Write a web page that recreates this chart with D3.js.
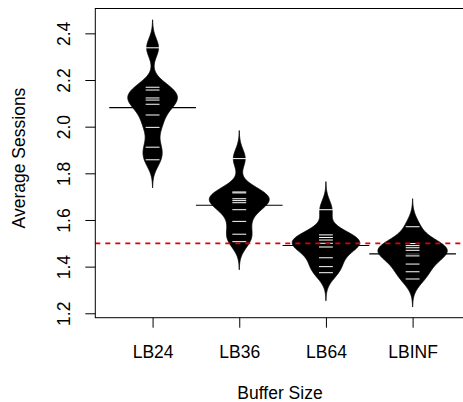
<!DOCTYPE html>
<html>
<head>
<meta charset="utf-8">
<script src="https://cdn.jsdelivr.net/npm/d3@7"></script>
<style>
  body { margin: 0; background: #fff; }
  text { font-family: "Liberation Sans", Arial, sans-serif; font-size: 17.5px; fill: #000; }
</style>
</head>
<body>
<div id="chart"></div>
<script>
// Data
var categories = ["LB24", "LB36", "LB64", "LBINF"];
var lb24 = [2.338, 2.169, 2.157, 2.123, 2.114, 2.096, 2.050, 1.997, 1.912, 1.858];
var lb36 = [1.863, 1.720, 1.716, 1.691, 1.683, 1.674, 1.644, 1.594, 1.539, 1.507];
var lb64 = [1.644, 1.536, 1.525, 1.514, 1.500, 1.490, 1.484, 1.438, 1.400, 1.374];
var lbinf = [1.571, 1.499, 1.490, 1.481, 1.470, 1.455, 1.446, 1.411, 1.378, 1.347];
var yTicks = [1.2, 1.4, 1.6, 1.8, 2.0, 2.2, 2.4];
var refLine = 1.5;
var bandwidth = 0.04;

var groups = [lb24, lb36, lb64, lbinf];

var svgWidth = 463;
var svgHeight = 402;

var svg = d3.select("#chart")
  .append("svg")
  .attr("width", svgWidth)
  .attr("height", svgHeight);

// plot region (right edge runs past the window, as in the original)
var plotLeft = 95.3, plotRight = 469.9, plotTop = 8.5, plotBottom = 317.7;

var xScale = d3.scalePoint()
  .domain(categories)
  .range([plotLeft, plotRight])
  .padding(0.661);

var yScale = d3.scaleLinear()
  .domain([1.1811, 2.5065])
  .range([plotBottom, plotTop]);

var step = xScale.step();

// gaussian kernel density for each bean
function kde(values) {
  var lo = d3.min(values) - 3 * bandwidth;
  var hi = d3.max(values) + 3 * bandwidth;
  var n = 240;
  var pts = [];
  for (var i = 0; i <= n; i++) {
    var v = lo + (hi - lo) * i / n;
    var d = d3.mean(values, function(x) {
      var u = (v - x) / bandwidth;
      return Math.exp(-0.5 * u * u) / (bandwidth * Math.sqrt(2 * Math.PI));
    });
    pts.push([v, d]);
  }
  return pts;
}

var densities = groups.map(kde);
var maxDensity = d3.max(densities, function(ds) { return d3.max(ds, function(p) { return p[1]; }); });
var widthScale = d3.scaleLinear().domain([0, maxDensity]).range([0, 0.4 * step]);

// beans
densities.forEach(function(ds, i) {
  var cx = xScale(categories[i]);
  var area = d3.area()
    .x0(function(p) { return cx - widthScale(p[1]); })
    .x1(function(p) { return cx + widthScale(p[1]); })
    .y(function(p) { return yScale(p[0]); });
  svg.append("path")
    .datum(ds)
    .attr("d", area)
    .attr("fill", "#000")
    .attr("stroke", "#000")
    .attr("stroke-width", 0.8);
});

// bean lines (one per observation)
groups.forEach(function(values, i) {
  var cx = xScale(categories[i]);
  svg.append("g")
    .selectAll("line")
    .data(values)
    .enter()
    .append("line")
    .attr("x1", cx - 0.08 * step)
    .attr("x2", cx + 0.08 * step)
    .attr("y1", function(d) { return yScale(d); })
    .attr("y2", function(d) { return yScale(d); })
    .attr("stroke", "#fff")
    .attr("stroke-width", 1);
});

// bean averages
groups.forEach(function(values, i) {
  var cx = xScale(categories[i]);
  var m = d3.mean(values);
  svg.append("line")
    .attr("x1", cx - 0.5 * step)
    .attr("x2", cx + 0.5 * step)
    .attr("y1", yScale(m))
    .attr("y2", yScale(m))
    .attr("stroke", "#000")
    .attr("stroke-width", 1.2);
});

// reference line
svg.append("line")
  .attr("x1", plotLeft)
  .attr("x2", plotRight)
  .attr("y1", yScale(refLine))
  .attr("y2", yScale(refLine))
  .attr("stroke", "#e00000")
  .attr("stroke-width", 1.8)
  .attr("stroke-dasharray", "5,5");

// box
svg.append("rect")
  .attr("x", plotLeft)
  .attr("y", plotTop)
  .attr("width", plotRight - plotLeft)
  .attr("height", plotBottom - plotTop)
  .attr("fill", "none")
  .attr("stroke", "#000")
  .attr("stroke-width", 1);

// axes
var leftAxis = d3.axisLeft(yScale).tickValues(yTicks).tickSize(10).tickFormat(d3.format(".1f"));
var bottomAxis = d3.axisBottom(xScale).tickSize(10);

var yAxisG = svg.append("g")
  .attr("transform", `translate(${plotLeft}, 0)`)
  .call(leftAxis);
yAxisG.select(".domain").remove();
yAxisG.selectAll("text")
  .attr("x", null)
  .attr("dy", null)
  .attr("text-anchor", "middle")
  .attr("transform", "translate(-25.3, 0) rotate(-90)");

var xAxisG = svg.append("g")
  .attr("transform", `translate(0, ${plotBottom})`)
  .call(bottomAxis);
xAxisG.select(".domain").remove();
xAxisG.selectAll("text")
  .attr("y", 40.5)
  .attr("dy", null);

svg.selectAll(".tick line").attr("stroke", "#000");
svg.selectAll(".tick text").attr("fill", "#000");
svg.selectAll("g").attr("font-family", null).attr("font-size", null);

// axis titles
svg.append("text")
  .attr("transform", "translate(25, 158) rotate(-90)")
  .attr("text-anchor", "middle")
  .text("Average Sessions");

svg.append("text")
  .attr("x", 280)
  .attr("y", 399)
  .attr("text-anchor", "middle")
  .text("Buffer Size");
</script>
</body>
</html>
